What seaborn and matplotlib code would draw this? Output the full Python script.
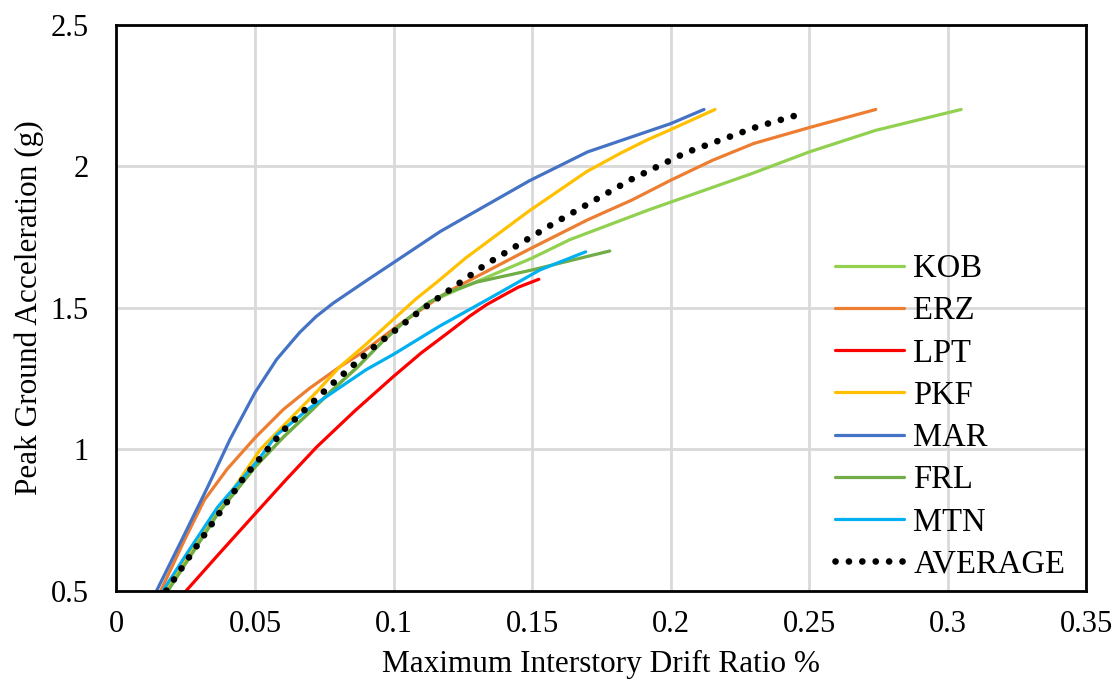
import matplotlib
matplotlib.use("Agg")
import matplotlib.pyplot as plt
import seaborn as sns

# drift ratio (%) vs PGA (g) for each record
kob_x = [0.0186, 0.0365, 0.050, 0.0604, 0.070, 0.078, 0.087, 0.096, 0.105, 0.113, 0.124, 0.150, 0.1636, 0.192, 0.2297, 0.250, 0.2739, 0.3048]
kob_y = [0.5, 0.771, 0.937, 1.044, 1.133, 1.21, 1.29, 1.38, 1.46, 1.52, 1.567, 1.675, 1.74, 1.845, 1.975, 2.05, 2.126, 2.2]

erz_x = [0.016, 0.0246, 0.0317, 0.040, 0.050, 0.0602, 0.0697, 0.0805, 0.0885, 0.1014, 0.1147, 0.1203, 0.1487, 0.170, 0.186, 0.200, 0.215, 0.230, 0.250, 0.274]
erz_y = [0.5, 0.68, 0.82, 0.93, 1.04, 1.14, 1.215, 1.29, 1.34, 1.435, 1.525, 1.56, 1.705, 1.81, 1.88, 1.95, 2.02, 2.08, 2.136, 2.2]

lpt_x = [0.0252, 0.037, 0.050, 0.061, 0.0723, 0.086, 0.100, 0.110, 0.1195, 0.1275, 0.1335, 0.139, 0.145, 0.1524]
lpt_y = [0.5, 0.63, 0.771, 0.89, 1.008, 1.135, 1.257, 1.34, 1.41, 1.47, 1.51, 1.54, 1.572, 1.60]

pkf_x = [0.0174, 0.036, 0.052, 0.072, 0.0805, 0.090, 0.100, 0.108, 0.1164, 0.126, 0.1487, 0.1696, 0.1816, 0.1912, 0.200, 0.216]
pkf_y = [0.5, 0.77, 1.0, 1.2, 1.29, 1.37, 1.459, 1.53, 1.596, 1.675, 1.84, 1.98, 2.044, 2.091, 2.129, 2.2]

mar_x = [0.0145, 0.0246, 0.0329, 0.041, 0.050, 0.0578, 0.0661, 0.072, 0.0781, 0.090, 0.100, 0.1167, 0.126, 0.149, 0.170, 0.200, 0.212]
mar_y = [0.5, 0.70, 0.866, 1.035, 1.20, 1.317, 1.412, 1.468, 1.515, 1.594, 1.659, 1.768, 1.82, 1.948, 2.05, 2.15, 2.2]

frl_x = [0.0186, 0.0365, 0.050, 0.0604, 0.070, 0.078, 0.087, 0.096, 0.105, 0.113, 0.120, 0.130, 0.150, 0.178]
frl_y = [0.5, 0.771, 0.937, 1.044, 1.133, 1.21, 1.29, 1.38, 1.46, 1.52, 1.555, 1.59, 1.633, 1.70]

mtn_x = [0.0168, 0.026, 0.0365, 0.044, 0.051, 0.0578, 0.0697, 0.0805, 0.090, 0.100, 0.1167, 0.1347, 0.1528, 0.1693]
mtn_y = [0.5, 0.64, 0.795, 0.88, 0.96, 1.05, 1.145, 1.217, 1.28, 1.335, 1.435, 1.533, 1.633, 1.697]

avg_x = [0.018, 0.0303, 0.046, 0.0604, 0.0762, 0.0928, 0.1103, 0.1329, 0.157, 0.1858, 0.2056, 0.2315, 0.2477]
avg_y = [0.5, 0.677, 0.90, 1.068, 1.216, 1.36, 1.494, 1.65, 1.793, 1.953, 2.048, 2.14, 2.186]

names = ["KOB", "ERZ", "LPT", "PKF", "MAR", "FRL", "MTN"]
colors = ["#92D050", "#ED7D31", "#FF0000", "#FFC000", "#4472C4", "#70AD47", "#00B0F0"]
series = [(kob_x, kob_y), (erz_x, erz_y), (lpt_x, lpt_y), (pkf_x, pkf_y),
          (mar_x, mar_y), (frl_x, frl_y), (mtn_x, mtn_y)]

x_ticks = [0, 0.05, 0.1, 0.15, 0.2, 0.25, 0.3, 0.35]
x_labels = ["0", "0.05", "0.1", "0.15", "0.2", "0.25", "0.3", "0.35"]
y_ticks = [0.5, 1, 1.5, 2, 2.5]
y_labels = ["0.5", "1", "1.5", "2", "2.5"]

sns.set_theme(style="whitegrid")
plt.rcParams["font.family"] = ["Liberation Serif", "DejaVu Serif"]

fig = plt.figure(figsize=(11.2, 6.82), dpi=100)
ax = fig.add_axes([0.104, 0.134, 0.866, 0.830])

for (xs, ys), name, c in zip(series, names, colors):
    sns.lineplot(x=xs, y=ys, ax=ax, color=c, label=name, linewidth=2.3,
                 estimator=None, sort=False, solid_joinstyle="round")

sns.lineplot(x=avg_x, y=avg_y, ax=ax, color="black", label="AVERAGE",
             linewidth=4.8, estimator=None, sort=False,
             linestyle=(0, (0.01, 2.0)), dash_capstyle="round")

ax.set_xlim(0, 0.35)
ax.set_ylim(0.5, 2.5)
ax.set_xticks(x_ticks)
ax.set_xticklabels(x_labels)
ax.set_yticks(y_ticks)
ax.set_yticklabels(y_labels)
ax.tick_params(axis="both", length=0, labelsize=22, colors="black")
ax.tick_params(axis="y", pad=20)
ax.tick_params(axis="x", pad=14)
ax.grid(True, color="#D9D9D9", linewidth=2)
for sp in ax.spines.values():
    sp.set_color("black")
    sp.set_linewidth(2)

ax.set_xlabel("Maximum Interstory Drift Ratio %", fontsize=22.5, color="black")
ax.set_ylabel("Peak Ground Acceleration (g)", fontsize=22.5, color="black")
ax.xaxis.set_label_coords(0.5, -0.105)
ax.yaxis.set_label_coords(-0.075, 0.5)

leg = ax.legend(loc="center left", bbox_to_anchor=(0.7455, 0.389),
                bbox_transform=fig.transFigure, frameon=False, fontsize=23.5,
                borderpad=0, borderaxespad=0, handlelength=2.1,
                handletextpad=0.3, labelspacing=0.36)
for t in leg.get_texts():
    t.set_color("black")

fig.savefig("out.png", dpi=100)
plt.close(fig)
